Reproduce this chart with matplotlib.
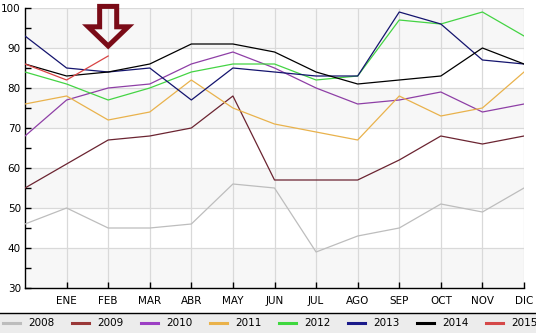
# coding=<utf-8>

#%%
import numpy as np
import matplotlib.pyplot as plt
from matplotlib.patches import Polygon, Rectangle
from matplotlib.lines import Line2D


# %% datos mensuales por año (posición 0 = cierre del año anterior)
meses = ['', 'ENE', 'FEB', 'MAR', 'ABR', 'MAY', 'JUN',
         'JUL', 'AGO', 'SEP', 'OCT', 'NOV', 'DIC']

v2008 = [46, 50, 45, 45, 46, 56, 55, 39, 43, 45, 51, 49, 55]
v2009 = [55, 61, 67, 68, 70, 78, 57, 57, 57, 62, 68, 66, 68]
v2010 = [68, 77, 80, 81, 86, 89, 85, 80, 76, 77, 79, 74, 76]
v2011 = [76, 78, 72, 74, 82, 75, 71, 69, 67, 78, 73, 75, 84]
v2012 = [84, 81, 77, 80, 84, 86, 86, 82, 83, 97, 96, 99, 93]
v2013 = [93, 85, 84, 85, 77, 85, 84, 83, 83, 99, 96, 87, 86]
v2014 = [86, 83, 84, 86, 91, 91, 89, 84, 81, 82, 83, 90, 86]
v2015 = [86, 82, 88]

anios = ['2008', '2009', '2010', '2011', '2012', '2013', '2014', '2015']
series = [v2008, v2009, v2010, v2011, v2012, v2013, v2014, v2015]
colores = ['#bdbdbd', '#6b2431', '#8e3fa6', '#e9b24c',
           '#44d444', '#14146e', '#000000', '#d94444']
colores_leyenda = ['#bdbdbd', '#9a3838', '#9c3fc4', '#eab24a',
                   '#3fd83f', '#1a1a8a', '#000000', '#d54848']


# %%
W, H = 536, 333
fig = plt.figure(figsize=(W / 100, H / 100), dpi=100)
ax = fig.add_axes([25 / W, 1 - 288 / H, (524 - 25) / W, (288 - 8) / H])

x = np.arange(len(meses))

# franjas alternas del fondo
for y0 in range(30, 100, 20):
    ax.axhspan(y0, y0 + 10, color='#f7f7f7', lw=0, zorder=0)

for xi in x[1:]:
    ax.axvline(xi, color='#d9d9d9', lw=0.9, zorder=1)
for yi in range(40, 101, 10):
    ax.axhline(yi, color='#d9d9d9', lw=0.9, zorder=1)

for vals, c in zip(series, colores):
    ax.plot(x[:len(vals)], vals, color=c, lw=0.9, zorder=3)

ax.set_xlim(0, 12)
ax.set_ylim(30, 100)
ax.set_xticks(x[1:])
ax.set_xticklabels(meses[1:])
ax.set_yticks(range(30, 101, 10))
ax.set_yticks(range(35, 100, 10), minor=True)
ax.tick_params(axis='both', which='both', direction='in', length=4,
               width=1, color='black', labelsize=7.5)
ax.tick_params(axis='x', pad=6)
ax.tick_params(axis='y', pad=3)
for s in ['top', 'right']:
    ax.spines[s].set_visible(False)
for s in ['left', 'bottom']:
    ax.spines[s].set_linewidth(1)
ax.set_facecolor('white')

# flecha señalando febrero
fx = 2
flecha = [(fx - 0.205, 100.4), (fx + 0.205, 100.4), (fx + 0.205, 95.3),
          (fx + 0.48, 95.3), (fx, 90.5), (fx - 0.48, 95.3), (fx - 0.205, 95.3)]
ax.add_patch(Polygon(flecha, closed=True, fill=False, ec='#7a0b17',
                     lw=3.6, joinstyle='miter', clip_on=False, zorder=5))


# %% leyenda inferior
fig.add_artist(Rectangle((0, 0), 1, 20 / H, transform=fig.transFigure,
                         color='#ececec', lw=0))
fig.add_artist(Line2D([0, 1], [20 / H, 20 / H], transform=fig.transFigure,
                      color='black', lw=1))
yl = 1 - 323 / H
for i, (a, c) in enumerate(zip(anios, colores_leyenda)):
    x0 = 3 + 69 * i
    fig.add_artist(Line2D([x0 / W, (x0 + 17) / W], [yl, yl],
                          transform=fig.transFigure, color=c, lw=2.2))
    fig.text((x0 + 25) / W, yl, a, fontsize=7.5, va='center', ha='left')

plt.savefig('out.png', dpi=100)
